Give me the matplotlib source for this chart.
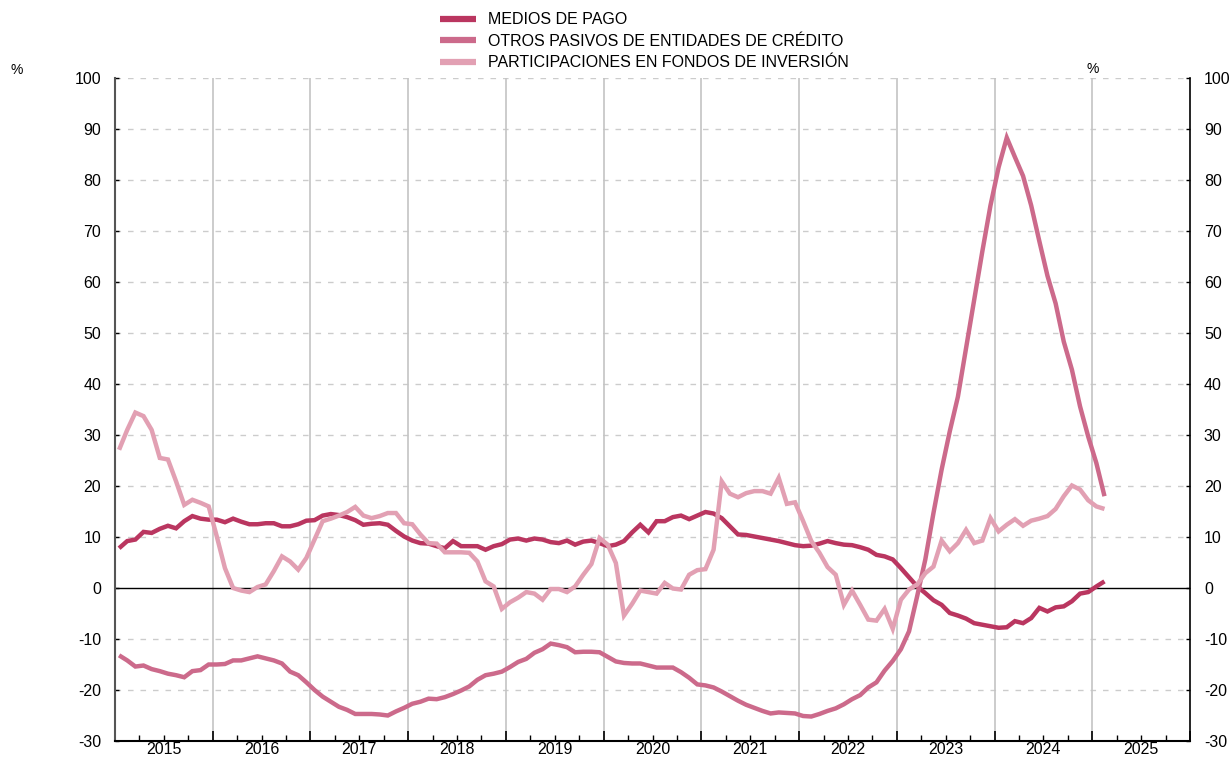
import numpy as np
import matplotlib
matplotlib.use("Agg")
import matplotlib.pyplot as plt
from matplotlib.ticker import FixedLocator, NullFormatter

plt.rcParams['font.family'] = ['Liberation Sans', 'DejaVu Sans']
plt.rcParams['axes.unicode_minus'] = False

# Monthly series, Jan 2015 - Feb 2025 (year-on-year rate, %)
start_year = 2015
medios_de_pago = [
    7.8, 9.2, 9.5, 11.0, 10.8, 11.6, 12.2, 11.7, 13.1, 14.1, 13.6, 13.4,
    13.4, 12.9, 13.6, 13.0, 12.5, 12.5, 12.7, 12.7, 12.1, 12.1, 12.5, 13.2,
    13.3, 14.2, 14.5, 14.3, 13.9, 13.3, 12.4, 12.6, 12.7, 12.4, 11.2, 10.1,
    9.3, 8.8, 8.7, 8.2, 7.8, 9.2, 8.2, 8.2, 8.2, 7.5, 8.2, 8.6,
    9.5, 9.7, 9.3, 9.7, 9.5, 9.0, 8.8, 9.3, 8.5, 9.1, 9.3, 8.8,
    8.2, 8.5, 9.2, 10.9, 12.4, 10.9, 13.1, 13.1, 13.9, 14.2, 13.5, 14.2,
    14.9, 14.6, 13.7, 12.1, 10.5, 10.4, 10.1, 9.8, 9.5, 9.2, 8.8, 8.4,
    8.2, 8.3, 8.7, 9.2, 8.8, 8.5, 8.4, 8.0, 7.5, 6.5, 6.2, 5.6,
    3.9, 2.1, 0.3, -1.0, -2.4, -3.3, -4.9, -5.4, -6.0, -6.9, -7.2, -7.5,
    -7.8, -7.7, -6.5, -6.9, -5.9, -3.9, -4.6, -3.8, -3.6, -2.6, -1.1, -0.8,
    0.3, 1.3,
]
otros_pasivos = [
    -13.2, -14.2, -15.4, -15.2, -15.9, -16.3, -16.8, -17.1, -17.5, -16.3, -16.1, -15.0,
    -15.0, -14.9, -14.2, -14.2, -13.8, -13.4, -13.8, -14.2, -14.8, -16.4, -17.1, -18.5,
    -20.0, -21.3, -22.3, -23.3, -23.9, -24.7, -24.7, -24.7, -24.8, -25.0, -24.2, -23.5,
    -22.7, -22.3, -21.7, -21.8, -21.4, -20.8, -20.1, -19.3, -18.0, -17.1, -16.8, -16.4,
    -15.5, -14.5, -13.9, -12.7, -12.0, -10.9, -11.2, -11.6, -12.6, -12.5, -12.5, -12.6,
    -13.5, -14.4, -14.7, -14.8, -14.8, -15.2, -15.6, -15.6, -15.6, -16.5, -17.6, -18.9,
    -19.1, -19.5, -20.3, -21.2, -22.1, -22.9, -23.5, -24.1, -24.6, -24.4, -24.5, -24.6,
    -25.1, -25.2, -24.7, -24.1, -23.6, -22.8, -21.8, -21.0, -19.5, -18.5, -16.2, -14.3,
    -12.0, -8.5, -1.6, 5.6, 14.7, 23.2, 30.7, 37.5, 47.0, 56.5, 66.0, 75.0,
    82.5, 88.3, 84.5, 80.8, 75.0, 68.0, 61.2, 55.8, 48.3, 42.8, 35.6, 29.7,
    24.5, 18.0,
]
participaciones_fondos = [
    27.1, 31.0, 34.4, 33.7, 31.0, 25.5, 25.2, 20.9, 16.3, 17.3, 16.7, 16.0,
    10.1, 3.9, 0.0, -0.5, -0.8, 0.2, 0.7, 3.3, 6.2, 5.2, 3.6, 5.9,
    9.5, 13.1, 13.6, 14.2, 14.9, 15.9, 14.2, 13.7, 14.1, 14.7, 14.7, 12.7,
    12.5, 10.5, 8.8, 8.7, 7.0, 7.0, 7.0, 6.9, 5.2, 1.3, 0.3, -4.1,
    -2.8, -1.9, -0.8, -1.1, -2.3, -0.2, -0.2, -0.8, 0.3, 2.6, 4.7, 9.8,
    8.5, 4.9, -5.4, -3.1, -0.5, -0.8, -1.1, 1.0, -0.1, -0.3, 2.6, 3.5,
    3.7, 7.5, 20.9, 18.5, 17.8, 18.6, 19.0, 19.0, 18.5, 21.6, 16.5, 16.8,
    13.1, 9.2, 6.9, 4.1, 2.6, -3.3, -0.5, -3.3, -6.2, -6.4, -4.1, -8.0,
    -2.3, -0.3, 0.7, 2.9, 4.2, 9.3, 7.2, 8.8, 11.4, 8.8, 9.3, 13.7,
    11.1, 12.4, 13.5, 12.2, 13.2, 13.6, 14.1, 15.5, 18.0, 20.1, 19.3, 17.2,
    16.0, 15.5,
]
series_labels = [
    "MEDIOS DE PAGO",
    "OTROS PASIVOS DE ENTIDADES DE CRÉDITO",
    "PARTICIPACIONES EN FONDOS DE INVERSIÓN",
]
series_colors = ["#BA3660", "#CC6A8B", "#E2A0B3"]
year_labels = [str(y) for y in range(2015, 2026)]
y_ticks = list(range(-30, 101, 10))

n = len(medios_de_pago)
x = start_year + (np.arange(n) + 0.5) / 12.0

fig = plt.figure(figsize=(12.32, 7.58), dpi=100)
ax = fig.add_axes([115 / 1232, 1 - 741 / 758, (1190 - 115) / 1232, (741 - 78) / 758])

x0, x1 = 2015, 2026
ax.set_xlim(x0, x1)
ax.set_ylim(-30, 100)

# horizontal dashed grid
for yv in y_ticks:
    if yv in (-30, 0):
        continue
    ax.axhline(yv, color="#cccccc", lw=1.0, ls=(0, (4, 5)), zorder=1)
# vertical year separators
for yr in range(2016, 2026):
    ax.axvline(yr, color="#c4c4c4", lw=1.2, zorder=1)
ax.axhline(0, color="black", lw=1.0, zorder=2)

for vals, lab, col in zip([medios_de_pago, otros_pasivos, participaciones_fondos],
                          series_labels, series_colors):
    ax.plot(x, vals, color=col, lw=3.2, label=lab, zorder=3,
            solid_joinstyle="miter", solid_capstyle="butt")

# spines
ax.spines["top"].set_visible(False)
ax.spines["left"].set_color("#555555")
ax.spines["left"].set_linewidth(1.5)
ax.spines["right"].set_color("black")
ax.spines["right"].set_linewidth(1.2)
ax.spines["bottom"].set_color("black")
ax.spines["bottom"].set_linewidth(1.5)

# y axis on both sides
ax.set_yticks(y_ticks)
ax.tick_params(axis="y", which="both", direction="in", length=3, width=1,
               left=True, right=True, labelleft=True, labelright=True,
               labelsize=11.5, pad=10, colors="black")

# x: year ticks and quarter ticks, labels centred on each year
ax.xaxis.set_major_locator(FixedLocator(list(range(2015, 2027))))
ax.xaxis.set_minor_locator(FixedLocator([y + q / 4 for y in range(2015, 2026) for q in (1, 2, 3)]))
ax.xaxis.set_major_formatter(NullFormatter())
ax.tick_params(axis="x", which="major", direction="in", length=7, width=1.2, color="black")
ax.tick_params(axis="x", which="minor", direction="in", length=4, width=1, color="black")

sec = ax.secondary_xaxis("bottom")
sec.set_xticks([y + 0.5 for y in range(2015, 2026)])
sec.set_xticklabels(year_labels)
sec.tick_params(axis="x", length=0, labelsize=11.5, pad=1)
sec.spines["bottom"].set_visible(False)

fig.text(17 / 1232, 1 - 70 / 758, "%", fontsize=10, ha="center", va="center")
fig.text(1093 / 1232, 1 - 69 / 758, "%", fontsize=10, ha="center", va="center")

leg = fig.legend(loc="upper left", bbox_to_anchor=(434 / 1232, 1 - 6 / 758),
                 frameon=False, fontsize=11.5, handlelength=2.2, handletextpad=0.8,
                 labelspacing=0.4, borderaxespad=0)
for line in leg.get_lines():
    line.set_linewidth(4.5)

fig.savefig("out.png", dpi=100)
